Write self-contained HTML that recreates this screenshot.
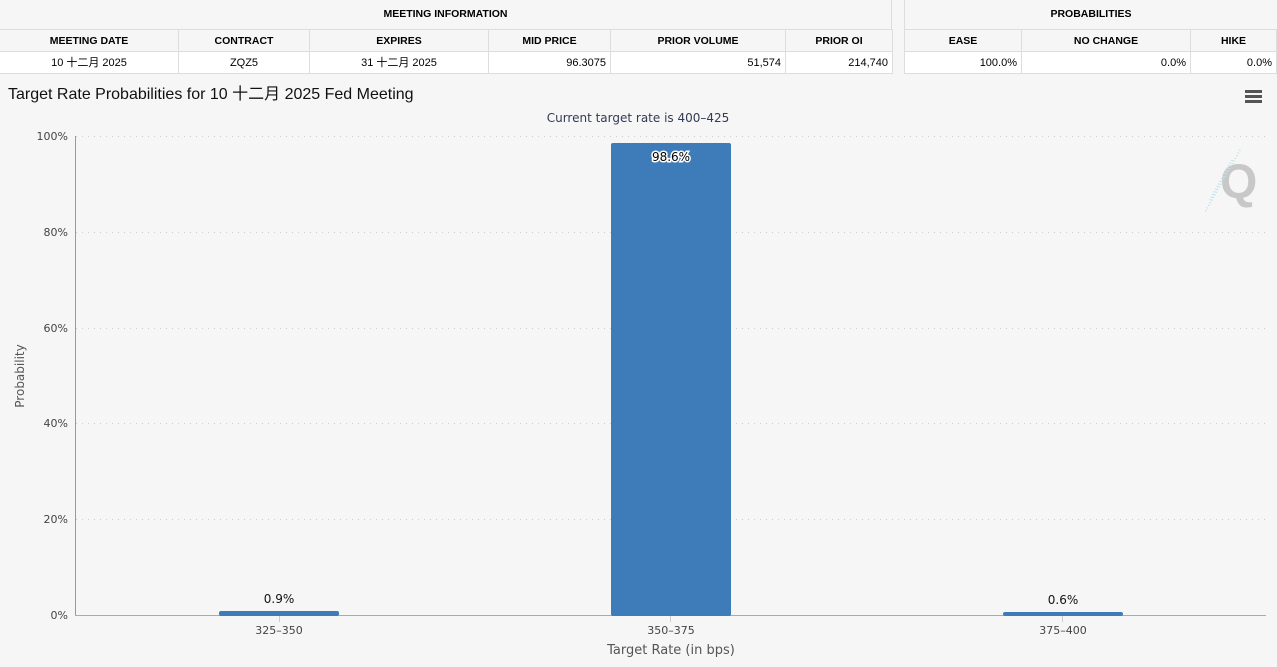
<!DOCTYPE html>
<html><head><meta charset="utf-8"><style>
body{margin:0;width:1277px;height:667px;background:#f6f6f6;font-family:"Liberation Sans","Noto Sans CJK SC",sans-serif;position:relative;overflow:hidden}
.c{position:absolute;box-sizing:border-box;font-size:11px;color:#000;line-height:22px}
.h{font-weight:bold;text-align:center;font-size:10.5px}
.d{background:#fff;border-right:1px solid #ddd;border-bottom:1px solid #ddd}
.s{border-right:1px solid #ddd;border-top:1px solid #ddd;border-bottom:1px solid #ddd}
</style></head><body>
<div class="c h" style="left:0;top:0;width:892px;height:29px;line-height:29px;border-right:1px solid #ddd">MEETING INFORMATION</div>
<div class="c h" style="left:904px;top:0;width:373px;height:29px;line-height:29px;border-left:1px solid #ddd">PROBABILITIES</div>
<!-- subheaders -->
<div class="c h s" style="left:0;top:29px;width:179px;height:23px">MEETING DATE</div>
<div class="c h s" style="left:179px;top:29px;width:131px;height:23px">CONTRACT</div>
<div class="c h s" style="left:310px;top:29px;width:179px;height:23px">EXPIRES</div>
<div class="c h s" style="left:489px;top:29px;width:122px;height:23px">MID PRICE</div>
<div class="c h s" style="left:611px;top:29px;width:175px;height:23px">PRIOR VOLUME</div>
<div class="c h s" style="left:786px;top:29px;width:107px;height:23px">PRIOR OI</div>
<div class="c h s" style="left:904px;top:29px;width:118px;height:23px;border-left:1px solid #ddd">EASE</div>
<div class="c h s" style="left:1022px;top:29px;width:169px;height:23px">NO CHANGE</div>
<div class="c h s" style="left:1191px;top:29px;width:86px;height:23px">HIKE</div>
<!-- data -->
<div class="c d" style="left:0;top:52px;width:179px;height:22px;text-align:center">10 十二月 2025</div>
<div class="c d" style="left:179px;top:52px;width:131px;height:22px;text-align:center">ZQZ5</div>
<div class="c d" style="left:310px;top:52px;width:179px;height:22px;text-align:center">31 十二月 2025</div>
<div class="c d" style="left:489px;top:52px;width:122px;height:22px;text-align:right;padding-right:4px">96.3075</div>
<div class="c d" style="left:611px;top:52px;width:175px;height:22px;text-align:right;padding-right:4px">51,574</div>
<div class="c d" style="left:786px;top:52px;width:107px;height:22px;text-align:right;padding-right:4px">214,740</div>
<div class="c d" style="left:904px;top:52px;width:118px;height:22px;text-align:right;padding-right:4px;border-left:1px solid #ddd">100.0%</div>
<div class="c d" style="left:1022px;top:52px;width:169px;height:22px;text-align:right;padding-right:4px">0.0%</div>
<div class="c d" style="left:1191px;top:52px;width:86px;height:22px;text-align:right;padding-right:4px">0.0%</div>

<svg style="position:absolute;left:0;top:0" width="1277" height="667" font-family="'DejaVu Sans',sans-serif">
<text x="8" y="99" font-family="'Liberation Sans','Noto Sans CJK SC',sans-serif" font-size="16" fill="#111">Target Rate Probabilities for 10 十二月 2025 Fed Meeting</text>
<g fill="#555"><rect x="1245" y="90" width="17" height="3"/><rect x="1245" y="95" width="17" height="3"/><rect x="1245" y="100" width="17" height="3"/></g>
<text x="638" y="122" text-anchor="middle" font-size="12" fill="#333a55">Current target rate is 400–425</text>
<g stroke="#ccc" stroke-dasharray="1,5" stroke-width="1">
<line x1="76" y1="136.5" x2="1266" y2="136.5"/><line x1="76" y1="232.5" x2="1266" y2="232.5"/><line x1="76" y1="328.5" x2="1266" y2="328.5"/><line x1="76" y1="423.5" x2="1266" y2="423.5"/><line x1="76" y1="519.5" x2="1266" y2="519.5"/>
</g>
<g font-size="11" fill="#444" text-anchor="end">
<text x="68" y="140">100%</text><text x="68" y="236">80%</text><text x="68" y="332">60%</text><text x="68" y="427">40%</text><text x="68" y="523">20%</text><text x="68" y="619">0%</text></g>
<text transform="translate(24,376) rotate(-90)" text-anchor="middle" font-size="12" fill="#555">Probability</text>
<g font-family="'Liberation Sans',sans-serif" font-size="48" font-weight="bold" fill="#c8c8c8"><text x="1220" y="198">Q</text></g>
<g stroke="#bfe3ee" stroke-width="2" stroke-dasharray="1,2"><line x1="1240" y1="150" x2="1205" y2="212"/><line x1="1232" y1="160" x2="1210" y2="200"/></g>
<line x1="75.5" y1="136" x2="75.5" y2="615" stroke="#999"/>
<line x1="75" y1="615.5" x2="1266" y2="615.5" stroke="#aaa"/>
<g stroke="#ccc"><line x1="279.5" y1="616" x2="279.5" y2="622"/><line x1="670.5" y1="616" x2="670.5" y2="622"/><line x1="1062.5" y1="616" x2="1062.5" y2="622"/></g>
<g fill="#3d7cb9">
<rect x="219" y="611" width="120" height="5" rx="2"/>
<rect x="611" y="143" width="120" height="473" rx="2"/>
<rect x="1003" y="612" width="120" height="4" rx="2"/>
</g>
<g font-size="12" fill="#111" text-anchor="middle">
<text x="279" y="603">0.9%</text>
<text x="1063" y="604">0.6%</text>
<text x="671" y="161" stroke="#fff" stroke-width="3" paint-order="stroke" fill="#000">98.6%</text>
</g>
<g font-size="11" fill="#444" text-anchor="middle">
<text x="279" y="634">325–350</text><text x="671" y="634">350–375</text><text x="1063" y="634">375–400</text></g>
<text x="671" y="654" text-anchor="middle" font-size="13" fill="#555">Target Rate (in bps)</text>
</svg>
</body></html>
